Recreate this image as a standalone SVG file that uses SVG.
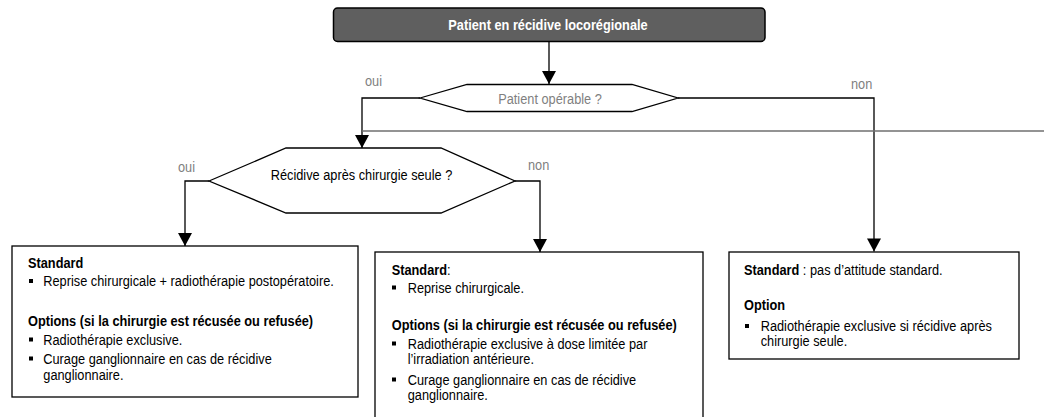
<svg xmlns="http://www.w3.org/2000/svg" width="1044" height="417" viewBox="0 0 1044 417">
<style>
text{font-family:"Liberation Sans",Arial,sans-serif;font-size:14.6px;fill:#000}
.b{font-weight:bold}
.g{fill:#7f7f7f}
.w{fill:#fff}
.mid{text-anchor:middle}
.box{fill:#fff;stroke:#000;stroke-width:1.3}
.ln{fill:none;stroke:#000;stroke-width:1.3}
.bul{fill:#000}
</style>
<defs>
<marker id="ah" markerUnits="userSpaceOnUse" markerWidth="14" markerHeight="14" viewBox="0 0 13 14" refX="13" refY="7" orient="auto">
<path d="M0,0 L13,7 L0,14 z" fill="#000"/>
</marker>
</defs>
<rect width="1044" height="417" fill="#fff"/>

<g id="connectors">
<path class="ln" d="M549,42 V84" marker-end="url(#ah)"/>
<path class="ln" d="M420,98 H362 V148" marker-end="url(#ah)"/>
<path class="ln" d="M678,98 H874 V251.5" marker-end="url(#ah)"/>
<line x1="362" y1="131" x2="1044" y2="131" stroke="#6f6f6f" stroke-width="1.4"/>
<path class="ln" d="M209,181 H185 V246" marker-end="url(#ah)"/>
<path class="ln" d="M515,181 H540 V252" marker-end="url(#ah)"/>
<text class="g" transform="translate(365 86) scale(.875 1)">oui</text>
<text class="g" transform="translate(851 88.5) scale(.875 1)">non</text>
<text class="g" transform="translate(178 172) scale(.875 1)">oui</text>
<text class="g" transform="translate(528 169.5) scale(.875 1)">non</text>
</g>

<g id="n-top">
<rect x="333.5" y="8" width="431.5" height="33.5" rx="4" fill="#5f5f5f" stroke="#000" stroke-width="1.5"/>
<text class="b w mid" transform="translate(548 30) scale(.875 1)">Patient en récidive locorégionale</text>
</g>

<g id="n-hex1">
<polygon class="box" points="420,98 467,84.5 632,84.5 678,98 632,111.5 467,111.5"/>
<text class="g mid" transform="translate(550 103.5) scale(.875 1)">Patient opérable ?</text>
</g>

<g id="n-hex2">
<polygon class="box" points="209,181 286,148 441,148 515,181 441,213 286,213"/>
<text class="mid" transform="translate(361.5 179.5) scale(.875 1)">Récidive après chirurgie seule ?</text>
</g>

<g id="n-box1">
<rect class="box" x="12" y="246" width="346" height="151"/>
<text class="b" transform="translate(28 268) scale(.875 1)">Standard</text>
<rect class="bul" x="29" y="279" width="4" height="4"/>
<text transform="translate(43.3 286) scale(.875 1)">Reprise chirurgicale + radiothérapie postopératoire.</text>
<text class="b" transform="translate(28 325.5) scale(.875 1)">Options (si la chirurgie est récusée ou refusée)</text>
<rect class="bul" x="29" y="337.5" width="4" height="4"/>
<text transform="translate(43.3 344.5) scale(.875 1)">Radiothérapie exclusive.</text>
<rect class="bul" x="29" y="356.5" width="4" height="4"/>
<text transform="translate(43.3 363.5) scale(.875 1)">Curage ganglionnaire en cas de récidive</text>
<text transform="translate(43.3 379.5) scale(.875 1)">ganglionnaire.</text>
</g>

<g id="n-box2">
<rect class="box" x="375" y="252" width="328" height="175"/>
<text transform="translate(391.7 274.5) scale(.875 1)"><tspan class="b">Standard</tspan>:</text>
<rect class="bul" x="392" y="285.5" width="4" height="4"/>
<text transform="translate(407.7 292.5) scale(.875 1)">Reprise chirurgicale.</text>
<text class="b" transform="translate(391.7 329.5) scale(.875 1)">Options (si la chirurgie est récusée ou refusée)</text>
<rect class="bul" x="392" y="341.5" width="4" height="4"/>
<text transform="translate(407.7 348.5) scale(.875 1)">Radiothérapie exclusive à dose limitée par</text>
<text transform="translate(407.7 364) scale(.875 1)">l’irradiation antérieure.</text>
<rect class="bul" x="392" y="377.5" width="4" height="4"/>
<text transform="translate(407.7 384.5) scale(.875 1)">Curage ganglionnaire en cas de récidive</text>
<text transform="translate(407.7 399.5) scale(.875 1)">ganglionnaire.</text>
</g>

<g id="n-box3">
<rect class="box" x="729" y="252" width="290" height="107"/>
<text transform="translate(744 275) scale(.875 1)"><tspan class="b">Standard</tspan> : pas d’attitude standard.</text>
<text class="b" transform="translate(744 309.5) scale(.875 1)">Option</text>
<rect class="bul" x="745" y="324" width="4" height="4"/>
<text transform="translate(760.7 331) scale(.875 1)">Radiothérapie exclusive si récidive après</text>
<text transform="translate(760.7 346) scale(.875 1)">chirurgie seule.</text>
</g>
</svg>
